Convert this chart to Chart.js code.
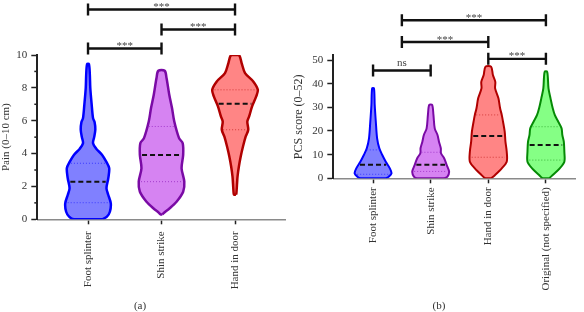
<!DOCTYPE html>
<html>
<head>
<meta charset="utf-8">
<script src="https://cdn.jsdelivr.net/npm/chart.js@4.4.1/dist/chart.umd.min.js"></script>
<style>
  html, body { margin: 0; padding: 0; background: #fff; }
  #wrap { position: relative; width: 584px; height: 312px; font-family: "Liberation Serif", serif; }
  .panel { position: absolute; top: 0; }
  .cap { position: absolute; top: 299px; font-size: 11px; color: #333; transform: translateX(-50%); }
</style>
</head>
<body>
<div id="wrap">
  <canvas id="chartA" class="panel" style="left:0" width="292" height="300"></canvas>
  <canvas id="chartB" class="panel" style="left:292px" width="292" height="300"></canvas>
  <div class="cap" style="left:140px">(a)</div>
  <div class="cap" style="left:439px">(b)</div>
</div>
<script>
// =============================================================================
// DATA — panel (a) pain
// =============================================================================
const painCategories = ["Foot splinter", "Shin strike", "Hand in door"];

const painFootLevels  = [0, 0.16, 0.46, 0.97, 1.48, 1.89, 2.5, 3.11, 3.51, 3.92, 4.3, 4.63, 5.0, 5.45, 5.9, 6.16, 7.0, 7.99, 8.8, 9.45];
const painFootDensity = [0.62, 0.83, 0.96, 1.0, 0.89, 0.81, 0.89, 0.93, 0.8, 0.62, 0.36, 0.22, 0.27, 0.32, 0.29, 0.22, 0.16, 0.1, 0.08, 0.04];

const painShinLevels  = [0.3, 0.43, 0.67, 1.07, 1.68, 2.29, 3.11, 3.92, 4.63, 4.94, 5.95, 6.77, 7.58, 8.6, 9.04];
const painShinDensity = [0.04, 0.14, 0.36, 0.66, 0.95, 1.0, 0.88, 0.95, 0.93, 0.77, 0.56, 0.46, 0.34, 0.22, 0.14];

const painHandLevels  = [1.5, 1.58, 2.2, 2.6, 3.21, 3.82, 4.43, 5.04, 5.45, 5.95, 6.26, 6.87, 7.48, 7.88, 8.39, 8.9, 9.51, 10.0];
const painHandDensity = [0.04, 0.06, 0.09, 0.11, 0.17, 0.25, 0.35, 0.47, 0.58, 0.54, 0.62, 0.75, 0.93, 1.0, 0.8, 0.44, 0.29, 0.17];

const painMedians = [2.29, 3.92, 7.03];
const painQ1      = [1.01, 2.29, 5.45];
const painQ3      = [3.41, 5.65, 7.88];

// [from category, to category, level, label]
const painBrackets = [
  [0, 1, 10.4, "***"],
  [1, 2, 11.55, "***"],
  [0, 2, 12.77, "***"]
];

// =============================================================================
// DATA — panel (b) PCS score
// =============================================================================
const pcsCategories = ["Foot splinter", "Shin strike", "Hand in door", "Original (not specified)"];

const pcsFootLevels  = [0, 0.7, 2.1, 4.2, 7.0, 9.85, 12.7, 16.9, 23.9, 31, 38];
const pcsFootDensity = [0.68, 0.85, 1.0, 0.91, 0.69, 0.5, 0.34, 0.22, 0.15, 0.09, 0.05];

const pcsShinLevels  = [0, 0.7, 2.8, 5.6, 8.5, 10.6, 12.7, 15.5, 18.3, 21.1, 26.8, 31];
const pcsShinDensity = [0.73, 0.91, 1.0, 0.87, 0.73, 0.56, 0.55, 0.45, 0.37, 0.22, 0.15, 0.08];

const pcsHandLevels  = [0, 1.4, 4.2, 7.0, 11.2, 15.5, 19.7, 23.9, 26.8, 29.6, 33.8, 38, 40.8, 43.7, 47.2];
const pcsHandDensity = [0.16, 0.37, 0.73, 1.0, 1.0, 0.93, 0.89, 0.8, 0.73, 0.64, 0.55, 0.37, 0.38, 0.25, 0.15];

const pcsOrigLevels  = [0, 1.4, 4.2, 7.0, 11.2, 15.5, 18.3, 21.1, 23.9, 26.8, 29.6, 33.8, 38, 45];
const pcsOrigDensity = [0.18, 0.37, 0.75, 1.0, 1.0, 0.97, 0.89, 0.85, 0.67, 0.48, 0.37, 0.25, 0.14, 0.07];

const pcsMedians = [5.75, 5.75, 17.9, 14.1];
const pcsQ1      = [1.7, 2.9, 8.9, 7.7];
const pcsQ3      = [12, 11, 26.8, 21.8];

const pcsBrackets = [
  [0, 1, 45.6, "ns"],
  [2, 3, 50.5, "***"],
  [0.5, 2, 57.6, "***"],
  [0.5, 3, 66.8, "***"]
];

// =============================================================================
// STYLE
// =============================================================================
const FONT = "'Liberation Serif', 'Times New Roman', serif";
const fills   = ["#8080ff", "#d683f2", "#ff8585", "#85ff85"];
const strokes = ["#0000ff", "#7a0aa5", "#b00000", "#058a05"];
const qColors = ["#3a3aff", "#a43ccc", "#d23a3a", "#3ab43a"];

Chart.defaults.font.family = FONT;
Chart.defaults.font.size = 11;
Chart.defaults.color = "#333";

// =============================================================================
// HELPERS
// =============================================================================
function violinPoints(center, levels, density, half) {
  const right = levels.map((v, i) => ({ x: center + density[i] * half, y: v }));
  const left = levels.map((v, i) => ({ x: center - density[i] * half, y: v })).reverse();
  return right.concat(left, [right[0]]);
}

function widthAt(levels, density, v) {
  for (let i = 1; i < levels.length; i++) {
    if (v <= levels[i]) {
      const t = (v - levels[i - 1]) / (levels[i] - levels[i - 1]);
      return density[i - 1] + t * (density[i] - density[i - 1]);
    }
  }
  return density[density.length - 1];
}

function buildDatasets(violins, medians, q1, q3, half, lw) {
  const ds = [];
  violins.forEach(([levels, density], i) => {
    ds.push({
      data: violinPoints(i, levels, density, half),
      showLine: true,
      fill: "shape",
      tension: 0.3,
      backgroundColor: fills[i],
      borderColor: strokes[i],
      borderWidth: lw,
      pointRadius: 0,
      order: 2
    });
    const hline = (v, dash, color, width) => {
      const w = widthAt(levels, density, v) * half * 0.9;
      ds.push({
        data: [{ x: i - w, y: v }, { x: i + w, y: v }],
        showLine: true,
        borderColor: color,
        borderWidth: width,
        borderDash: dash,
        pointRadius: 0,
        order: 1
      });
    };
    hline(q1[i], [1, 2], qColors[i], 1);
    hline(q3[i], [1, 2], qColors[i], 1);
    hline(medians[i], [5, 3], "#111", 2);
  });
  return ds;
}

// brackets with stars + minor y ticks, all placed through the chart scales
const annotatePlugin = {
  id: "annotate",
  afterDraw(chart, args, opts) {
    const { ctx, scales: { x, y } } = chart;
    ctx.save();
    // minor ticks
    ctx.strokeStyle = "#222";
    ctx.lineWidth = 1.5;
    y.ticks.forEach(t => {
      if (t.value % opts.majorStep !== 0) {
        const py = y.getPixelForValue(t.value);
        ctx.beginPath();
        ctx.moveTo(y.right - 3, py);
        ctx.lineTo(y.right, py);
        ctx.stroke();
      }
    });
    // brackets
    opts.brackets.forEach(([from, to, level, label]) => {
      const x1 = x.getPixelForValue(from);
      const x2 = x.getPixelForValue(to);
      const yy = y.getPixelForValue(level);
      ctx.strokeStyle = "#111";
      ctx.lineWidth = 2.4;
      ctx.beginPath();
      ctx.moveTo(x1, yy - 6); ctx.lineTo(x1, yy + 6);
      ctx.moveTo(x1, yy); ctx.lineTo(x2, yy);
      ctx.moveTo(x2, yy - 6); ctx.lineTo(x2, yy + 6);
      ctx.stroke();
      ctx.fillStyle = "#444";
      ctx.font = "11px " + FONT;
      ctx.textAlign = "center";
      ctx.textBaseline = "alphabetic";
      ctx.fillText(label, (x1 + x2) / 2, label === "ns" ? yy - 4 : yy + 0.5);
    });
    ctx.restore();
  }
};

function makeChart(id, cfg) {
  const cats = cfg.categories;
  return new Chart(document.getElementById(id), {
    type: "scatter",
    data: { datasets: cfg.datasets },
    plugins: [annotatePlugin],
    options: {
      responsive: false,
      animation: false,
      layout: { padding: cfg.padding },
      plugins: {
        legend: { display: false },
        tooltip: { enabled: false },
        annotate: { brackets: cfg.brackets, majorStep: cfg.majorStep }
      },
      scales: {
        x: {
          type: "linear",
          min: cfg.xMin,
          max: cfg.xMax,
          afterBuildTicks: s => { s.ticks = cats.map((_, i) => ({ value: i })); },
          afterFit: s => { s.height = cfg.xHeight; },
          ticks: {
            callback: v => cats[v] ?? "",
            minRotation: 90,
            maxRotation: 90,
            padding: cfg.xPad,
            color: "#333",
            font: { size: 11 }
          },
          grid: { drawOnChartArea: false, tickLength: 5, tickColor: "#222", tickWidth: 1.5 },
          border: { color: "#8a8a8a", width: 1.5 }
        },
        y: {
          min: 0,
          max: cfg.yMax,
          afterFit: s => { s.width = cfg.yWidth; },
          ticks: {
            stepSize: cfg.minorStep,
            includeBounds: false,
            padding: 4,
            color: "#333",
            callback: v => (v % cfg.majorStep === 0 ? v : "")
          },
          grid: {
            drawOnChartArea: false,
            tickLength: 6,
            tickWidth: 1.5,
            tickColor: c => (c.tick && c.tick.value % cfg.majorStep === 0 ? "#222" : "rgba(0,0,0,0)")
          },
          border: { color: "#222", width: 2 },
          title: { display: true, text: cfg.yTitle, color: "#333", font: { size: cfg.titleSize }, padding: 0 }
        }
      }
    }
  });
}

// =============================================================================
// INIT
// =============================================================================
makeChart("chartA", {
  categories: painCategories,
  datasets: buildDatasets(
    [[painFootLevels, painFootDensity], [painShinLevels, painShinDensity], [painHandLevels, painHandDensity]],
    painMedians, painQ1, painQ3, 0.31, 2.5
  ),
  brackets: painBrackets,
  xMin: -0.69, xMax: 2.68,
  yMax: 10, minorStep: 1, majorStep: 2,
  yTitle: "Pain (0–10 cm)", titleSize: 11,
  padding: { top: 55, right: 7, bottom: 0, left: 0 },
  xHeight: 80.7, yWidth: 37.3, xPad: 7
});

makeChart("chartB", {
  categories: pcsCategories,
  datasets: buildDatasets(
    [[pcsFootLevels, pcsFootDensity], [pcsShinLevels, pcsShinDensity], [pcsHandLevels, pcsHandDensity], [pcsOrigLevels, pcsOrigDensity]],
    pcsMedians, pcsQ1, pcsQ3, 0.32, 2
  ),
  brackets: pcsBrackets,
  xMin: -0.69, xMax: 3.51,
  yMax: 52, minorStep: 5, majorStep: 10,
  yTitle: "PCS score (0–52)", titleSize: 12,
  padding: { top: 55.3, right: 8.7, bottom: 0, left: 0 },
  xHeight: 121.7, yWidth: 41.3, xPad: 4
});
</script>
</body>
</html>
